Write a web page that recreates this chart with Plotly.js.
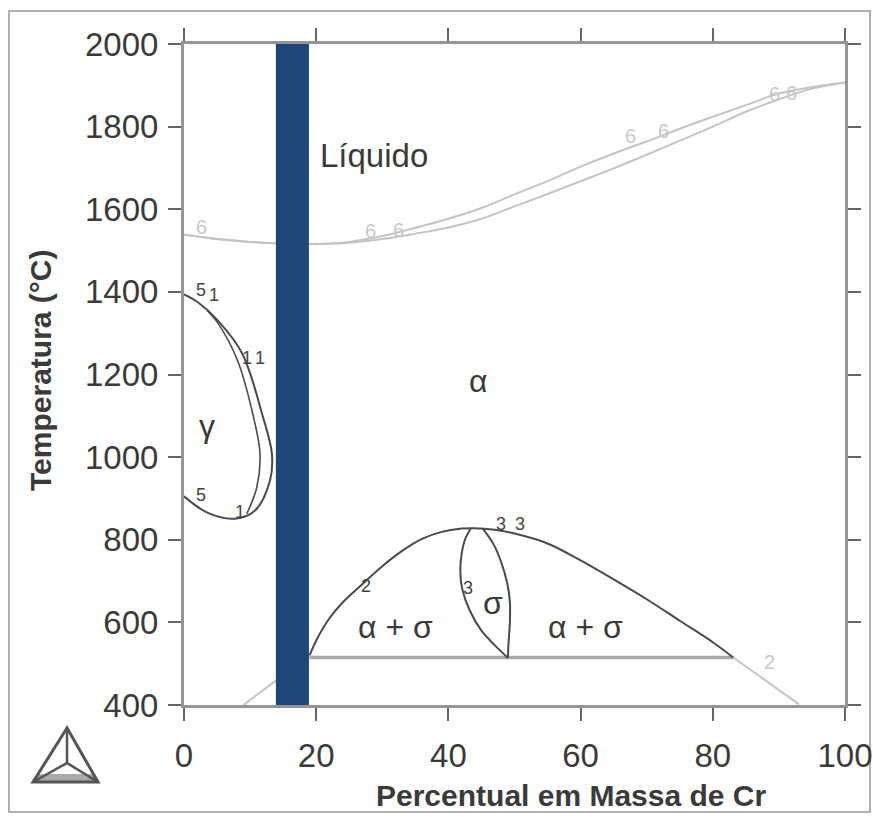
<!DOCTYPE html>
<html>
<head>
<meta charset="utf-8">
<script src="https://cdn.plot.ly/plotly-3.0.1.min.js"></script>
<style>html,body{margin:0;padding:0;background:#fff;}#chart{width:873px;height:817px;}</style>
</head>
<body>
<div id="chart"></div>
<script>
// Liquidus / solidus (wt% Cr, °C)
const liqX = [0,5,10,15,20,25,30,35,40,45,50,55,60,65,70,75,80,85,90,95,100];
const liqUpper = [1538,1528,1521,1517,1516,1521,1535,1555,1577,1603,1636,1668,1703,1735,1764,1795,1824,1852,1880,1896,1907];
const liqLower = [1538,1528,1521,1517,1516,1519,1528,1541,1556,1577,1607,1637,1668,1699,1732,1766,1800,1836,1866,1892,1907];

// Gamma loop
const gammaOuterX = [0, 2, 5.1, 8.8, 11.8, 13.3, 13.0, 10.7, 7.7, 3.6, 0];
const gammaOuterY = [1394, 1376, 1331, 1251, 1105, 1008, 943, 870, 851, 865, 905];
const gammaInnerX = [3.5, 5.1, 8.1, 10.4, 11.5, 11.0, 9.5];
const gammaInnerY = [1355, 1325, 1234, 1105, 1008, 926, 863];

// Sigma dome (alpha / alpha+sigma)
const domeX = [19, 20, 21, 22, 24, 27, 30, 33, 36, 39, 42, 44, 47, 50, 55, 60, 65, 70, 75, 80, 83.1];
const domeY = [520, 556, 585, 610, 648, 693, 736, 773, 802, 819, 827, 828, 824, 815, 791, 750, 704, 656, 604, 552, 515];
const domeLeftExtX = [9, 13.8, 19];
const domeLeftExtY = [400, 458, 520];
const domeRightExtX = [83.1, 88, 93];
const domeRightExtY = [515, 460, 402];

// Sigma lens
const sigmaLeftX = [43.4, 42.5, 42.0, 41.8, 42.1, 43.2, 45.0, 47.0, 49.0];
const sigmaLeftY = [828, 800, 765, 725, 680, 630, 580, 545, 514];
const sigmaRightX = [45.2, 46.8, 48.0, 48.9, 49.3, 49.3, 49.1, 49.0];
const sigmaRightY = [827, 790, 745, 695, 650, 600, 550, 514];

// Eutectoid horizontal
const eutX = [19, 83.1];
const eutY = [515, 515];

// Highlight band (wt% Cr)
const bandX = [13.9, 18.9];
const bandY = [400, 2000];

// Region labels
const regionText = ['Líquido', 'α', 'γ', 'σ', 'α + σ', 'α + σ'];
const regionX = [28.8, 44.5, 3.5, 46.8, 32, 60.8];
const regionY = [1730, 1185, 1075, 648, 590, 590];

// Small line labels (dark)
const numText = ['5', '1', '1', '1', '5', '1', '2', '3', '3', '3'];
const numX = [2.6, 4.6, 9.6, 11.5, 2.6, 8.5, 27.5, 43.0, 47.9, 50.9];
const numY = [1404, 1393, 1240, 1240, 908, 866, 689, 683, 838, 838];
// Small line labels (light)
const lightText = ['6', '6', '6', '6', '6', '6', '6', '6', '2'];
const lightX = [2.6, 28.2, 32.5, 67.5, 72.6, 89.3, 91.9, 101.2, 88.6];
const lightY = [1557, 1547, 1550, 1778, 1790, 1880, 1882, 1925, 503];

// Axis ticks
const xTicks = [0, 20, 40, 60, 80, 100];
const yTicks = [400, 600, 800, 1000, 1200, 1400, 1600, 1800, 2000];

const dark = '#4a4a4a';
const light = '#c4c4c4';
const FONT = 'Liberation Sans, Arial, sans-serif';

function line(x, y, color, width, shape) {
  return {x: x, y: y, type: 'scatter', mode: 'lines', hoverinfo: 'skip',
    line: {color: color, width: width, shape: shape || 'spline', smoothing: 1}};
}

const traces = [
  line(liqX, liqUpper, light, 2),
  line(liqX, liqLower, light, 2),
  line(domeLeftExtX, domeLeftExtY, light, 2, 'linear'),
  line(domeRightExtX, domeRightExtY, light, 2, 'linear'),
  line(eutX, eutY, '#a8a8a8', 3.5, 'linear'),
  line(gammaOuterX, gammaOuterY, dark, 2),
  line(gammaInnerX, gammaInnerY, dark, 1.6),
  line(domeX, domeY, dark, 2),
  line(sigmaLeftX, sigmaLeftY, dark, 2),
  line(sigmaRightX, sigmaRightY, dark, 2),
  {x: [bandX[0], bandX[1], bandX[1], bandX[0], bandX[0]],
   y: [bandY[0], bandY[0], bandY[1], bandY[1], bandY[0]],
   type: 'scatter', mode: 'lines', fill: 'toself', fillcolor: '#1f4677',
   line: {color: '#1f4677', width: 0}, hoverinfo: 'skip'}
];

// pixel -> paper helper for decorative items
const L = 184, R = 845, T = 44, B = 705;
const px = v => (v - L) / (R - L);
const py = v => (B - v) / (B - T);
function path(pts) {
  return 'M ' + pts.map(p => px(p[0]).toFixed(4) + ' ' + py(p[1]).toFixed(4)).join(' L ') + ' Z';
}

const annotations = [];
regionText.forEach((t, i) => annotations.push({x: regionX[i], y: regionY[i], xref: 'x', yref: 'y',
  text: t, showarrow: false, font: {family: FONT, size: i === 0 ? 33 : 32, color: '#3a3a3a'}}));
numText.forEach((t, i) => annotations.push({x: numX[i], y: numY[i], xref: 'x', yref: 'y',
  text: t, showarrow: false, font: {family: FONT, size: 18, color: '#444'}}));
lightText.forEach((t, i) => annotations.push({x: lightX[i], y: lightY[i], xref: 'x', yref: 'y',
  text: t, showarrow: false, font: {family: FONT, size: 20, color: '#c8c8c8'}}));
// axis titles
annotations.push({xref: 'paper', yref: 'paper', x: px(571), y: py(795), xanchor: 'center', yanchor: 'middle',
  text: 'Percentual em Massa de Cr',
  showarrow: false, font: {family: FONT, size: 30, color: '#3a3a3a', weight: 'bold'}});
annotations.push({xref: 'paper', yref: 'paper', x: px(41), y: py(371), xanchor: 'center', yanchor: 'middle',
  text: 'Temperatura (°C)', textangle: -90,
  showarrow: false, font: {family: FONT, size: 30, color: '#3a3a3a', weight: 'bold'}});

const shapes = [
  // outer frame
  {type: 'rect', xref: 'paper', yref: 'paper', x0: px(9), x1: px(870), y0: py(812), y1: py(11),
   line: {color: '#b0b0b0', width: 2}, layer: 'below'},
  // logo
  {type: 'path', xref: 'paper', yref: 'paper', path: path([[33,782],[98,782],[93,774],[38,774]]),
   fillcolor: '#aaaaaa', line: {width: 0}},
  {type: 'path', xref: 'paper', yref: 'paper', path: path([[67,728],[33,782],[98,782]]),
   fillcolor: 'rgba(0,0,0,0)', line: {color: '#555', width: 3}},
  {type: 'path', xref: 'paper', yref: 'paper', path: path([[67,728],[67,763],[33,782],[67,763],[98,782],[67,763]]),
   fillcolor: 'rgba(0,0,0,0)', line: {color: '#555', width: 2.5}}
];

const axisCommon = {
  showgrid: false, zeroline: false, showline: true, linecolor: '#959595', linewidth: 3,
  mirror: 'allticks', ticks: 'outside', ticklen: 13, tickwidth: 2, tickcolor: '#666',
  tickfont: {family: FONT, size: 33, color: '#3a3a3a'}
};

const layout = {
  width: 873, height: 817,
  margin: {l: 184, r: 28, t: 44, b: 112},
  paper_bgcolor: '#ffffff', plot_bgcolor: '#ffffff',
  showlegend: false,
  xaxis: Object.assign({}, axisCommon, {
    range: [0, 100], tickvals: xTicks, ticktext: xTicks.map(String), ticklabelstandoff: 6
  }),
  yaxis: Object.assign({}, axisCommon, {
    range: [400, 2000], tickvals: yTicks, ticktext: yTicks.map(String), ticklabelstandoff: 3
  }),
  annotations: annotations,
  shapes: shapes
};

Plotly.newPlot('chart', traces, layout, {displayModeBar: false, staticPlot: true});
</script>
</body>
</html>
